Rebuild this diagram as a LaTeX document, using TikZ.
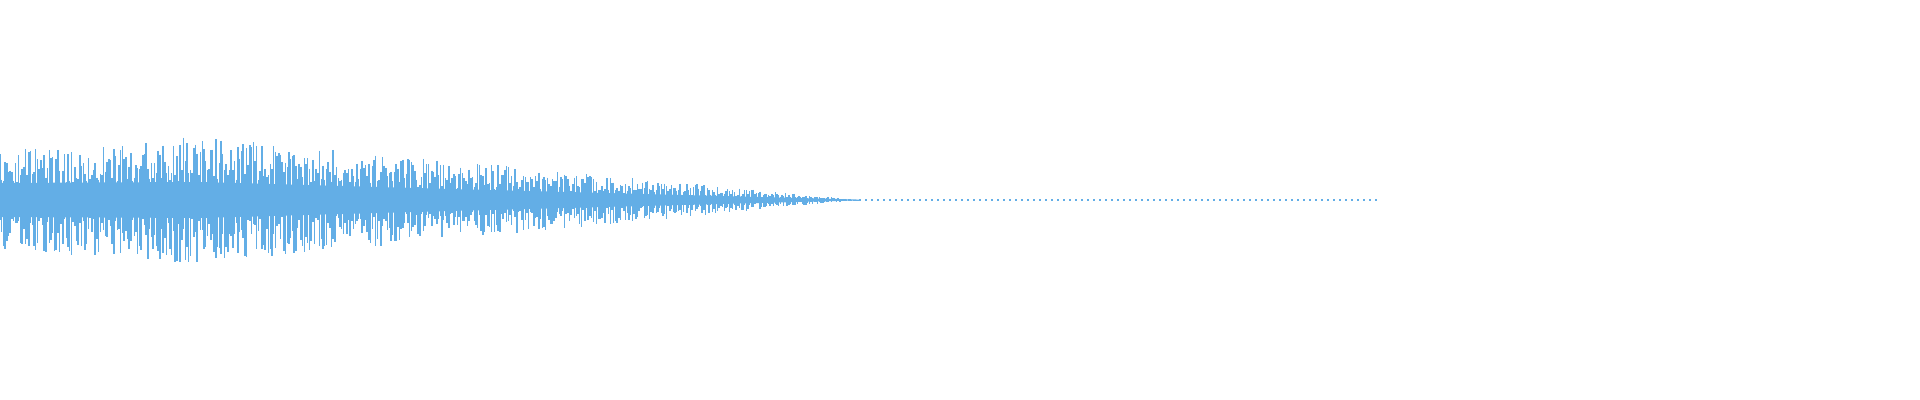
\documentclass[tikz,border=0pt]{standalone}
\definecolor{wave}{HTML}{63AEE6}
\tikzset{sample/.style={draw=wave,line width=0.4pt}}
\begin{document}
\begin{tikzpicture}[x=0.01cm,y=0.01cm]
\useasboundingbox (0,0) rectangle (1920,400);
\pgfmathsetseed{7}
% core band
\fill[wave] (0,183) -- (200,182) -- (450,189) -- (860,199.6) -- (860,200.4) -- (450,211) -- (200,218) -- (0,217) -- cycle;
% samples
\foreach \x in {0,1.7,...,860}{
  \pgfmathsetmacro{\env}{\x<200 ? 50+0.07*\x : (860-\x)/660*64}
  \pgfmathsetmacro{\up}{\env*(0.3+0.7*rnd)}
  \pgfmathsetmacro{\dn}{\env*(0.3+0.7*rnd)}
  \draw[sample] (\x,200+\up) -- (\x,200-\dn);
}
% tail
\foreach \x in {860,866,...,1378}{
  \draw[sample,line width=0.3pt] (\x,199.4) -- (\x,200.6);
}
\end{tikzpicture}
\end{document}
